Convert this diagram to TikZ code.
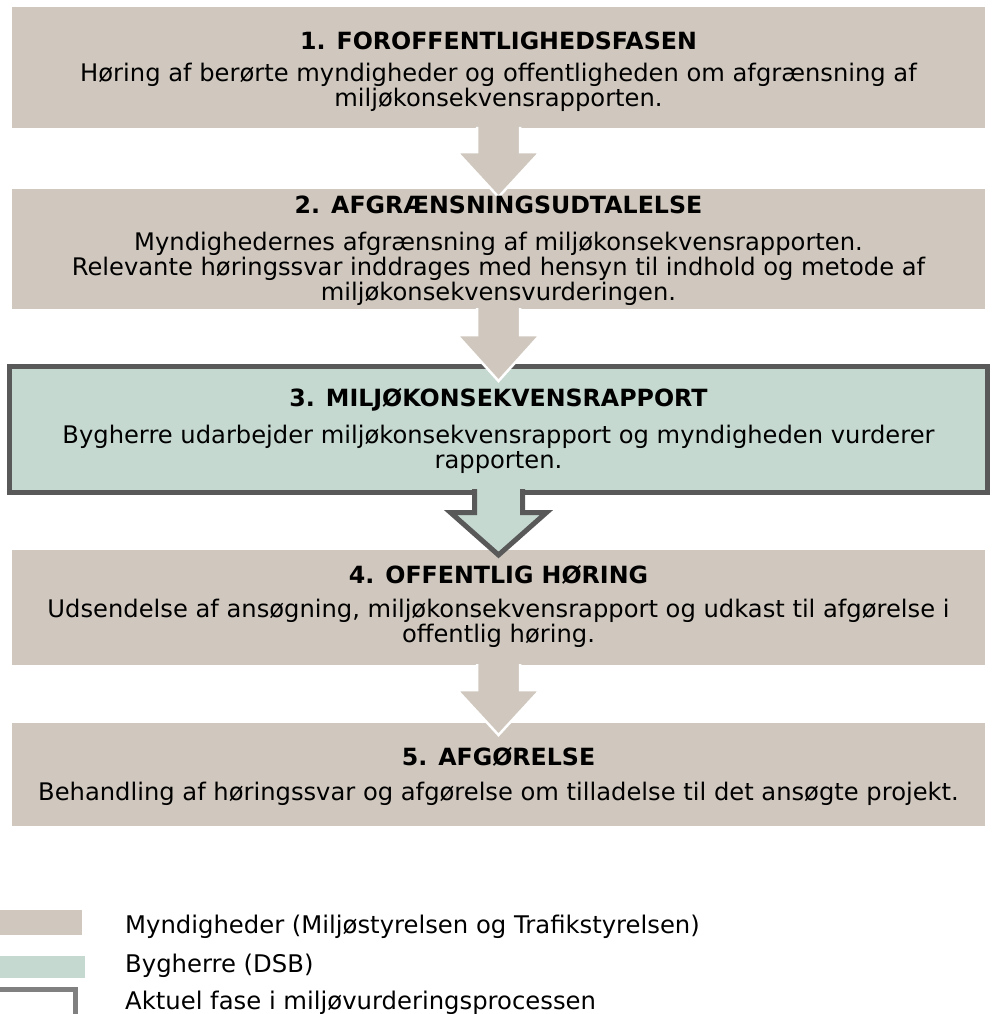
\documentclass[tikz,border=0pt]{standalone}
\usepackage{fontspec}
\setmainfont{DejaVu Sans}
\definecolor{beige}{RGB}{208,200,190}
\definecolor{sage}{RGB}{197,217,209}
\definecolor{darkline}{RGB}{89,89,89}
\definecolor{leggray}{RGB}{128,128,128}
\begin{document}
\begin{tikzpicture}[x=1pt,y=-1pt,
  phase/.style={fill=beige,draw=none},
  ttl/.style={anchor=base,inner sep=0pt,font=\fontsize{23.7}{28}\selectfont\bfseries},
  txt/.style={anchor=base,inner sep=0pt,font=\fontsize{24.2}{28}\selectfont},
  leg/.style={anchor=base west,inner sep=0pt,font=\fontsize{24.3}{28}\selectfont},
  arrowbeige/.style={fill=beige,draw=white,line width=2.5pt,line join=miter},
  arrowsage/.style={fill=sage,draw=darkline,line width=5pt,line join=miter}]
\useasboundingbox (0,0) rectangle (993,1014);
\fill[white] (0,0) rectangle (993,1014);
% boxes
\fill[phase] (12,7) rectangle (985,128);
\fill[phase] (12,189) rectangle (985,309);
\filldraw[fill=sage,draw=darkline,line width=5pt] (9.5,366.5) rectangle (987.5,492.5);
\fill[phase] (12,550) rectangle (985,665);
\fill[phase] (12,723) rectangle (985,826);
% arrows
\path[arrowbeige] (477,127) -- (477,152) -- (457,152) -- (498.5,197) -- (540,152) -- (520,152) -- (520,127);
\path[arrowbeige] (477,308) -- (477,335) -- (457,335) -- (498.5,381) -- (540,335) -- (520,335) -- (520,308);
\path[arrowsage] (474.5,489) -- (474.5,512.5) -- (450.5,512.5) -- (498.5,555) -- (546.5,512.5) -- (522.5,512.5) -- (522.5,489);
\path[arrowbeige] (477,664) -- (477,690) -- (457,690) -- (498.5,735) -- (540,690) -- (520,690) -- (520,664);
% texts
\node[ttl] (t1) at (498.5,50) {1. FOROFFENTLIGHEDSFASEN};
\node[txt] (t1a) at (498.5,82) {Høring af berørte myndigheder og offentligheden om afgrænsning af};
\node[txt] (t1b) at (498.5,107) {miljøkonsekvensrapporten.};
\node[ttl] (t2) at (498.5,213) {2. AFGRÆNSNINGSUDTALELSE};
\node[txt] (t2a) at (498.5,250) {Myndighedernes afgrænsning af miljøkonsekvensrapporten.};
\node[txt] (t2b) at (498.5,275) {Relevante høringssvar inddrages med hensyn til indhold og metode af};
\node[txt] (t2c) at (498.5,300) {miljøkonsekvensvurderingen.};
\node[ttl] (t3) at (498.5,406) {3. MILJØKONSEKVENSRAPPORT};
\node[txt] (t3a) at (498.5,443) {Bygherre udarbejder miljøkonsekvensrapport og myndigheden vurderer};
\node[txt] (t3b) at (498.5,468) {rapporten.};
\node[ttl] (t4) at (498.5,583) {4. OFFENTLIG HØRING};
\node[txt] (t4a) at (498.5,617) {Udsendelse af ansøgning, miljøkonsekvensrapport og udkast til afgørelse i};
\node[txt] (t4b) at (498.5,642) {offentlig høring.};
\node[ttl] (t5) at (498.5,765) {5. AFGØRELSE};
\node[txt] (t5a) at (498.5,800) {Behandling af høringssvar og afgørelse om tilladelse til det ansøgte projekt.};
% legend
\fill[beige] (0,910) rectangle (82,935);
\fill[sage] (0,956) rectangle (85,978);
\draw[leggray,line width=4.5pt,fill=white] (-10,989.5) rectangle (75.5,1030);
\node[leg] (l1) at (125,933) {Myndigheder (Miljøstyrelsen og Trafikstyrelsen)};
\node[leg] (l2) at (125,972) {Bygherre (DSB)};
\node[leg] (l3) at (125,1009) {Aktuel fase i miljøvurderingsprocessen};
\end{tikzpicture}
\end{document}
